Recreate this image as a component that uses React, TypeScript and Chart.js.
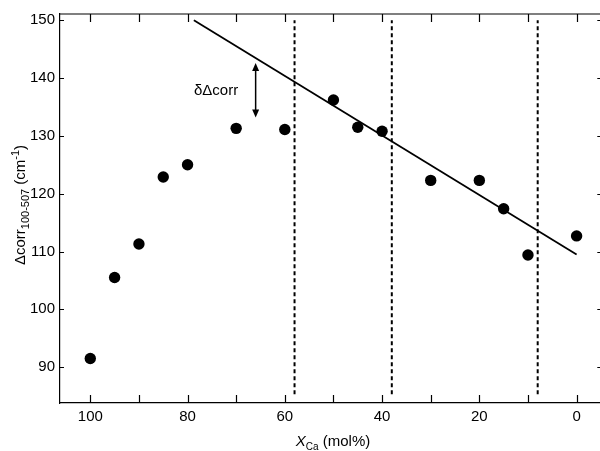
import React, { useEffect, useRef } from "react";
import { Chart, registerables } from "chart.js";

Chart.register(...registerables);

// ---- data ----
const xCa = [100, 95, 90, 85, 80, 70, 60, 50, 45, 40, 30, 20, 15, 10, 0];
const deltaCorr = [91.5, 105.5, 111.3, 122.9, 125.0, 131.3, 131.1, 136.2, 131.5, 130.8, 122.3, 122.3, 117.4, 109.4, 112.7];

const fitX = [78.7, 0];
const fitY = [150, 109.5];

const boundaryX = [58, 38, 8];
const boundaryY = [85.3, 150];

const xTickValues = [0, 10, 20, 30, 40, 50, 60, 70, 80, 90, 100];
const xTickLabels = [100, 80, 60, 40, 20, 0];
const yTickValues = [90, 100, 110, 120, 130, 140, 150];

const xRange = [-5.08, 106.23];
const yRange = [83.8, 151.08];

const arrowX = 66;
const arrowY = [133.2, 142.6];
const noteText = "δΔcorr";
const noteX = 69.6;
const noteY = 137.1;

const FONT = "'Liberation Sans', Arial, Helvetica, sans-serif";

type Part = { t: string; size: number; dy: number; italic?: boolean };

function drawRich(ctx: CanvasRenderingContext2D, parts: Part[], cx: number, cy: number) {
  let total = 0;
  for (const p of parts) {
    ctx.font = `${p.italic ? "italic " : ""}${p.size}px ${FONT}`;
    total += ctx.measureText(p.t).width;
  }
  let x = cx - total / 2;
  ctx.textAlign = "left";
  ctx.textBaseline = "alphabetic";
  for (const p of parts) {
    ctx.font = `${p.italic ? "italic " : ""}${p.size}px ${FONT}`;
    ctx.fillText(p.t, x, cy + p.dy);
    x += ctx.measureText(p.t).width;
  }
}

const decorPlugin = {
  id: "decor",
  afterDatasetsDraw(chart: any) {
    const ctx: CanvasRenderingContext2D = chart.ctx;
    const { left, right, top, bottom } = chart.chartArea;
    const xs = chart.scales.x;
    const ys = chart.scales.y;
    ctx.save();
    ctx.strokeStyle = "#000";
    ctx.fillStyle = "#000";
    // top and right frame
    ctx.lineWidth = 1.2;
    ctx.beginPath();
    ctx.moveTo(left, top);
    ctx.lineTo(right, top);
    ctx.lineTo(right, bottom);
    ctx.stroke();
    // inward ticks
    ctx.lineWidth = 1.2;
    ctx.beginPath();
    for (const v of xTickValues) {
      const px = Math.round(xs.getPixelForValue(v)) + 0.5;
      ctx.moveTo(px, bottom);
      ctx.lineTo(px, bottom - 8);
      ctx.moveTo(px, top);
      ctx.lineTo(px, top + 8);
    }
    for (const v of yTickValues) {
      const py = Math.round(ys.getPixelForValue(v)) + 0.5;
      ctx.moveTo(left, py);
      ctx.lineTo(left + 4, py);
      ctx.moveTo(right, py);
      ctx.lineTo(right - 4, py);
    }
    ctx.stroke();

    // double-headed arrow
    const ax = xs.getPixelForValue(arrowX);
    const ay0 = ys.getPixelForValue(arrowY[0]);
    const ay1 = ys.getPixelForValue(arrowY[1]);
    const head = 8;
    const hw = 3.5;
    ctx.lineWidth = 1.5;
    ctx.beginPath();
    ctx.moveTo(ax, ay0 - head + 1);
    ctx.lineTo(ax, ay1 + head - 1);
    ctx.stroke();
    ctx.beginPath();
    ctx.moveTo(ax, ay1);
    ctx.lineTo(ax - hw, ay1 + head);
    ctx.lineTo(ax + hw, ay1 + head);
    ctx.closePath();
    ctx.fill();
    ctx.beginPath();
    ctx.moveTo(ax, ay0);
    ctx.lineTo(ax - hw, ay0 - head);
    ctx.lineTo(ax + hw, ay0 - head);
    ctx.closePath();
    ctx.fill();

    // annotation
    ctx.font = `15px ${FONT}`;
    ctx.textAlign = "right";
    ctx.textBaseline = "alphabetic";
    ctx.fillText(noteText, xs.getPixelForValue(noteX), ys.getPixelForValue(noteY));

    // x title
    drawRich(
      ctx,
      [
        { t: "X", size: 15, dy: 0, italic: true },
        { t: "Ca", size: 10, dy: 3.5 },
        { t: " (mol%)", size: 15, dy: 0 },
      ],
      333,
      446
    );

    // y title
    ctx.translate(25, 205);
    ctx.rotate(-Math.PI / 2);
    drawRich(
      ctx,
      [
        { t: "Δcorr", size: 15, dy: 0 },
        { t: "100-507", size: 11, dy: 4 },
        { t: " (cm", size: 15, dy: 0 },
        { t: "-1", size: 11, dy: -6 },
        { t: ")", size: 15, dy: 0 },
      ],
      0,
      0
    );
    ctx.restore();
  },
};

export default function App() {
  const ref = useRef<HTMLCanvasElement | null>(null);
  useEffect(() => {
    if (!ref.current) return;
    Chart.defaults.font.family = FONT;
    const boundaryDatasets = boundaryX.map((bx) => ({
      type: "scatter" as const,
      data: boundaryY.map((by) => ({ x: bx, y: by })),
      showLine: true,
      borderColor: "#000",
      borderWidth: 2,
      borderDash: [4, 3],
      pointRadius: 0,
      order: 3,
    }));
    const chart = new Chart(ref.current, {
      type: "scatter",
      data: {
        datasets: [
          {
            data: xCa.map((x, i) => ({ x, y: deltaCorr[i] })),
            backgroundColor: "#000",
            borderColor: "#000",
            borderWidth: 0,
            pointRadius: 5.7,
            pointHoverRadius: 5.7,
            order: 1,
          },
          {
            data: fitX.map((x, i) => ({ x, y: fitY[i] })),
            showLine: true,
            borderColor: "#000",
            borderWidth: 1.8,
            pointRadius: 0,
            order: 2,
          },
          ...boundaryDatasets,
        ] as any,
      },
      options: {
        animation: false,
        responsive: false,
        events: [],
        layout: { padding: { top: 12, right: 0, left: 0, bottom: 0 } },
        plugins: { legend: { display: false }, tooltip: { enabled: false } },
        scales: {
          x: {
            type: "linear",
            reverse: true,
            min: xRange[0],
            max: xRange[1],
            afterBuildTicks: (s: any) => {
              s.ticks = xTickValues.map((v) => ({ value: v }));
            },
            afterFit: (s: any) => {
              s.height = 48;
            },
            grid: { display: true, drawOnChartArea: false, drawTicks: false },
            border: { display: true, color: "#000", width: 1.2 },
            ticks: {
              autoSkip: false,
              maxRotation: 0,
              padding: 5,
              color: "#000",
              font: { size: 15, family: FONT },
              callback: (v: any) => (xTickLabels.includes(Number(v)) ? String(v) : ""),
            },
          },
          y: {
            type: "linear",
            min: yRange[0],
            max: yRange[1],
            afterBuildTicks: (s: any) => {
              s.ticks = yTickValues.map((v) => ({ value: v }));
            },
            afterFit: (s: any) => {
              s.width = 60;
            },
            grid: { display: true, drawOnChartArea: false, drawTicks: false },
            border: { display: true, color: "#000", width: 1.2 },
            ticks: {
              autoSkip: false,
              padding: 5,
              color: "#000",
              font: { size: 15, family: FONT },
              callback: (v: any) => String(v),
            },
          },
        },
      },
      plugins: [decorPlugin],
    } as any);
    return () => chart.destroy();
  }, []);
  return (
    <div
      style={{
        position: "absolute",
        left: 0,
        top: 0,
        width: 600,
        height: 451,
        overflow: "hidden",
        background: "#fff",
      }}
    >
      <canvas ref={ref} width={607} height={451} style={{ display: "block" }} />
    </div>
  );
}
